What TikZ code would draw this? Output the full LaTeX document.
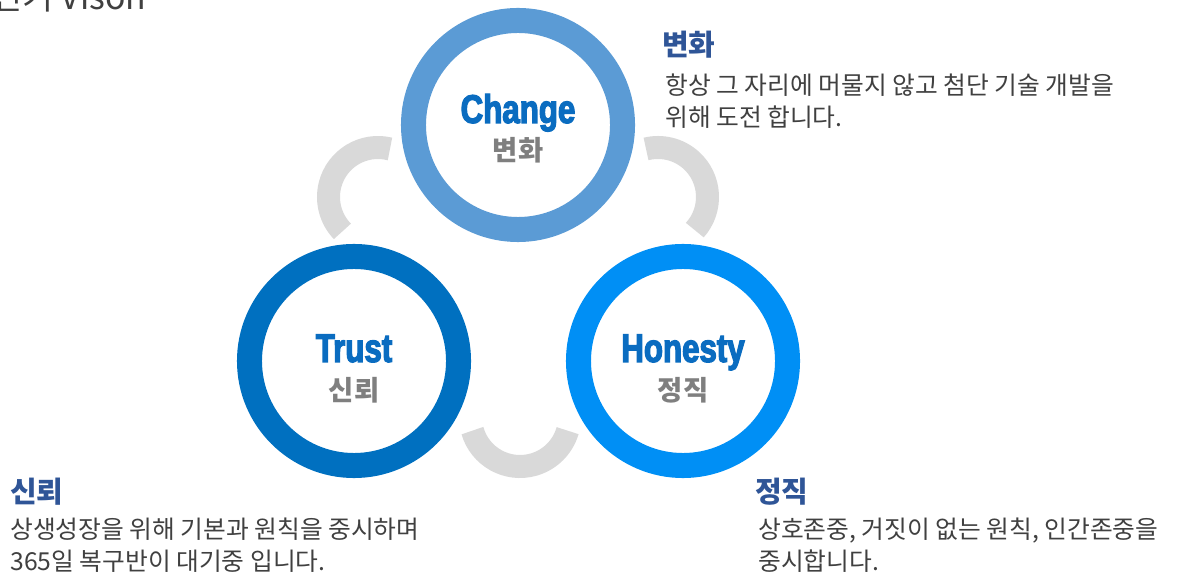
\documentclass[tikz,border=0pt]{standalone}
\usepackage{fontspec}
\setmainfont{Noto Sans CJK KR}
\newfontfamily\titlefont{Liberation Sans}[FakeStretch=0.78,FakeBold=3]
\usepackage{tikz}
\usetikzlibrary{positioning, calc}

\definecolor{changeblue}{HTML}{5B9BD5}
\definecolor{trustblue}{HTML}{0070C0}
\definecolor{honestyblue}{HTML}{008FF5}
\definecolor{arcgray}{HTML}{D9D9D9}
\definecolor{enblue}{HTML}{0A6CC0}
\definecolor{krgray}{HTML}{7F7F7F}
\definecolor{headblue}{HTML}{2F5597}
\definecolor{bodygray}{HTML}{404040}

\begin{document}
\begin{tikzpicture}[x=0.025cm, y=0.025cm,
    ring/.style={circle, draw, fill=white, line width=0.625cm, minimum size=5.225cm, inner sep=0},
    gaparc/.style={draw=arcgray, line width=0.575cm},
    enword/.style={text=enblue, font=\titlefont\bfseries\fontsize{28.5}{30}\selectfont, inner sep=0, anchor=base},
    krword/.style={text=krgray, font=\bfseries\fontsize{19.5}{21}\selectfont, inner sep=0, anchor=base},
    head/.style={text=headblue, font=\bfseries\fontsize{20.6}{24}\selectfont, inner sep=0, anchor=base west},
    body/.style={text=bodygray, font=\fontsize{17.6}{22}\selectfont, inner sep=0, anchor=base west}]

    \useasboundingbox (0,0) rectangle (1177,579);

    % page title, cut off at the edge
    \node[body, font=\fontsize{24}{26}\selectfont] (title) at (-40,569) {성전기 Vison};

    % gray arcs between the rings
    \draw[gaparc] (378,382) ++(76:49.5) arc[start angle=76, end angle=224, radius=49.5];
    \draw[gaparc] (658,382) ++(-42:49.5) arc[start angle=-42, end angle=104, radius=49.5];
    \draw[gaparc] (520,162) ++(196:49.5) arc[start angle=196, end angle=344, radius=49.5];

    % rings
    \node[ring, draw=changeblue] (change) at (518,454) {};
    \node[ring, draw=trustblue] (trust) at (354,218) {};
    \node[ring, draw=honestyblue] (honesty) at (683,218) {};

    \node[enword] (changeen) at ([yshift=0.05cm]change.center) {Change};
    \node[krword] (changekr) at ([yshift=-0.875cm]change.center) {변화};
    \node[enword] (trusten) at ([yshift=-0.025cm]trust.center) {Trust};
    \node[krword] (trustkr) at ([yshift=-0.975cm]trust.center) {신뢰};
    \node[enword] (honestyen) at ([yshift=-0.025cm]honesty.center) {Honesty};
    \node[krword] (honestykr) at ([yshift=-0.975cm]honesty.center) {정직};

    % texts
    \node[head] (changehead) at (662,523) {변화};
    \node[body] (changeone) at (665,484) {항상 그 자리에 머물지 않고 첨단 기술 개발을};
    \node[body] (changetwo) at (665,452) {위해 도전 합니다.};

    \node[head] (trusthead) at (10,76) {신뢰};
    \node[body] (trustone) at (10,41) {상생성장을 위해 기본과 원칙을 중시하며};
    \node[body] (trusttwo) at (10,9) {365일 복구반이 대기중 입니다.};

    \node[head] (honestyhead) at (755,76) {정직};
    \node[body] (honestyone) at (758,41) {상호존중, 거짓이 없는 원칙, 인간존중을};
    \node[body] (honestytwo) at (758,9) {중시합니다.};
\end{tikzpicture}
\end{document}
